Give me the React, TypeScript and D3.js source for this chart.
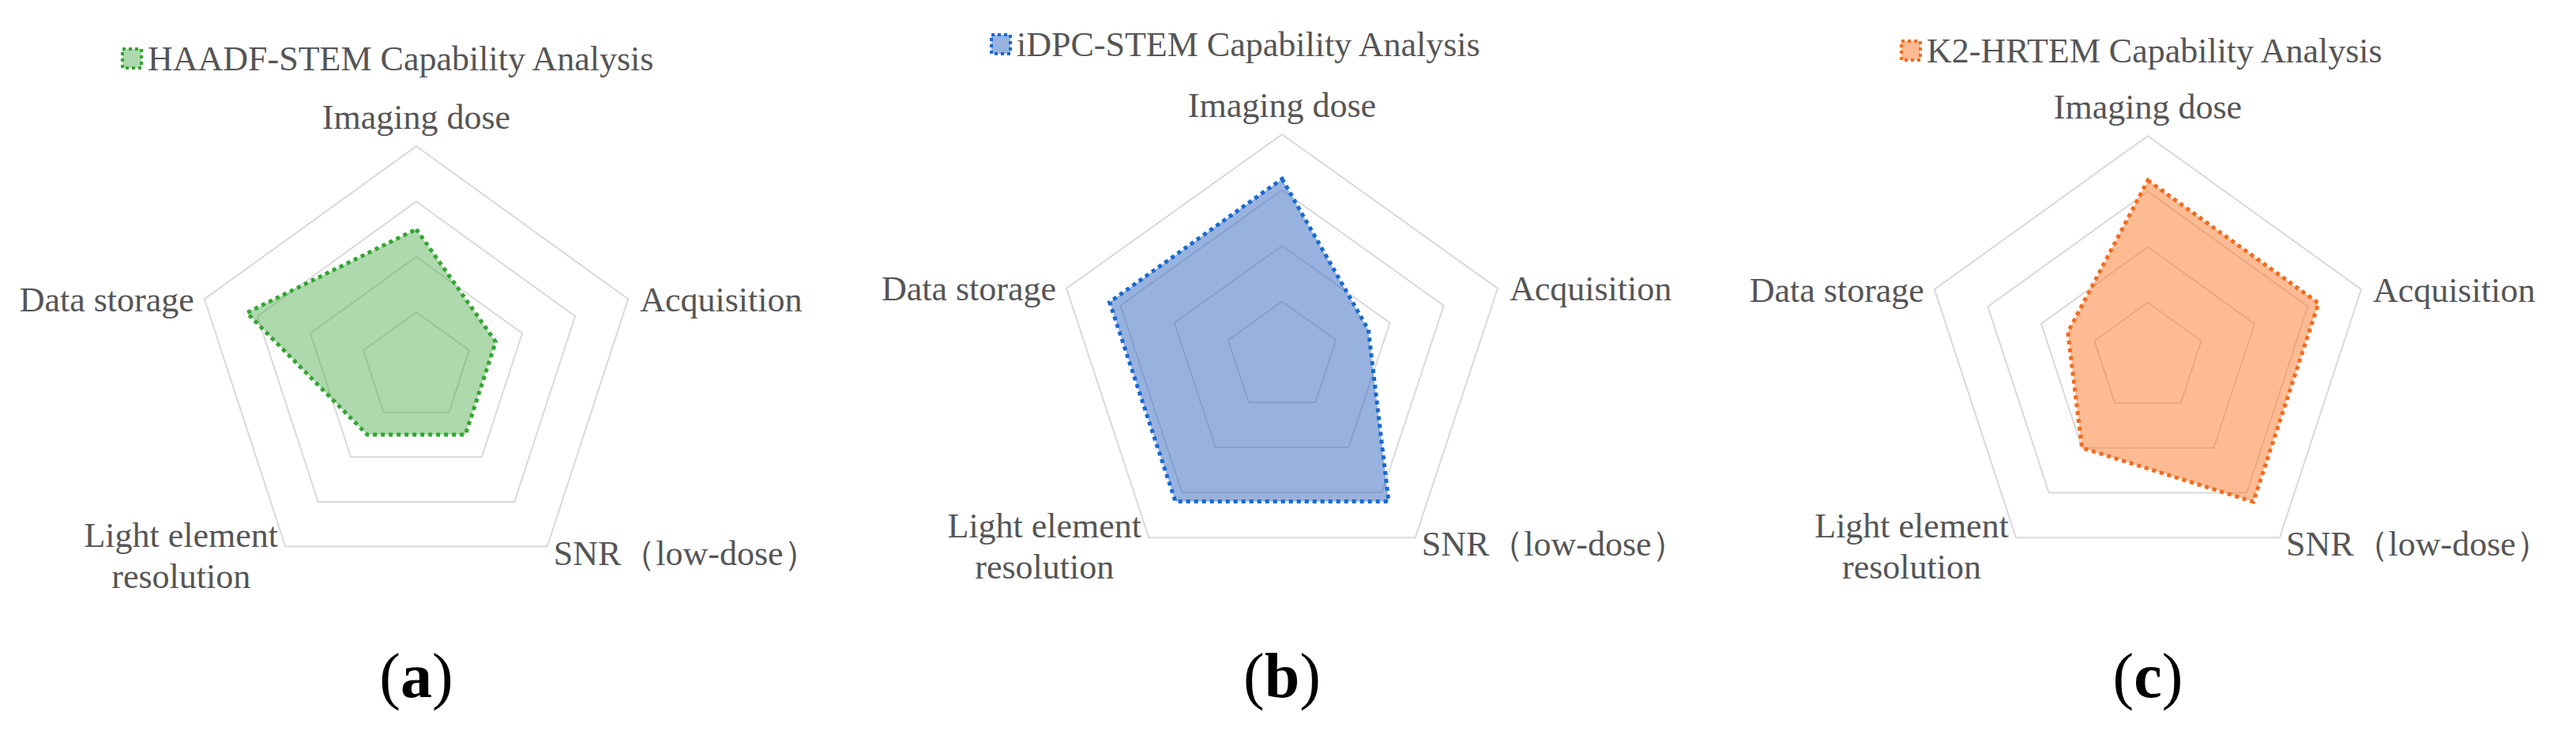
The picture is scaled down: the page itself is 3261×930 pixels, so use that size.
import React from 'react';
import { scaleLinear, line, curveLinearClosed, range } from 'd3';

const axes = ['Imaging dose', 'Acquisition', 'SNR（low-dose）', 'Light element|resolution', 'Data storage'];
const levels = [1, 2, 3, 4];

const haadfValues = [2.5, 1.5, 1.5, 1.5, 3.2];
const idpcValues = [3.2, 1.6, 3.2, 3.2, 3.2];
const k2Values = [3.2, 3.2, 3.2, 2, 1.5];

const titles = ['HAADF-STEM Capability Analysis', 'iDPC-STEM Capability Analysis', 'K2-HRTEM Capability Analysis'];
const panelLabels = ['a', 'b', 'c'];

const charts = [
  { values: haadfValues, title: titles[0], tag: panelLabels[0], cx: 527, cy: 465, rx: 282, ry: 280, legendX: 153, legendY: 74, stroke: '#33a532', fill: 'rgba(80,175,80,0.47)' },
  { values: idpcValues, title: titles[1], tag: panelLabels[1], cx: 1623, cy: 452, rx: 287, ry: 282, legendX: 1253, legendY: 56, stroke: '#1769d0', fill: 'rgba(68,114,196,0.55)' },
  { values: k2Values, title: titles[2], tag: panelLabels[2], cx: 2719, cy: 453, rx: 284, ry: 281, legendX: 2405, legendY: 64, stroke: '#f26b1d', fill: 'rgba(249,120,40,0.5)' },
];

const GRID = '#d9d9d9';
const TEXT = '#555555';
const FONT = 'Liberation Serif, Times New Roman, serif';

function Radar({ c }) {
  const r = scaleLinear().domain([0, 4]).range([0, 1]);
  const angle = (i) => (i * 2 * Math.PI) / axes.length;
  const pt = (i, v) => [c.cx + c.rx * r(v) * Math.sin(angle(i)), c.cy - c.ry * r(v) * Math.cos(angle(i))];
  const path = line().curve(curveLinearClosed);

  const ring = (lv) => path(range(axes.length).map((i) => pt(i, lv)));
  const series = path(c.values.map((v, i) => pt(i, v)));
  const outer = range(axes.length).map((i) => pt(i, 4));
  const ts = { fontFamily: FONT, fontSize: 44, fill: TEXT };

  return (
    <g>
      {levels.map((lv) => (
        <path key={lv} d={ring(lv)} fill="none" stroke={GRID} strokeWidth={2} />
      ))}
      <path d={series} fill={c.fill} stroke="none" />
      <path d={series} fill="none" stroke={c.stroke} strokeWidth={5} strokeDasharray="5 5" />

      {/* axis labels */}
      <text x={outer[0][0]} y={outer[0][1] - 22} textAnchor="middle" style={ts}>{axes[0]}</text>
      <text x={outer[1][0] + 15} y={outer[1][1]} dy="0.35em" textAnchor="start" style={ts}>{axes[1]}</text>
      <text x={outer[2][0] + 8} y={outer[2][1] + 23} textAnchor="start" style={ts}>{axes[2]}</text>
      <text y={outer[3][1]} textAnchor="middle" style={ts}>
        {axes[3].split('|').map((s, k) => (
          <tspan key={k} x={outer[3][0] - 132} dy={k === 0 ? 0 : 52}>{s}</tspan>
        ))}
      </text>
      <text x={outer[4][0] - 13} y={outer[4][1]} dy="0.35em" textAnchor="end" style={ts}>{axes[4]}</text>

      {/* legend */}
      <rect x={c.legendX + 2} y={c.legendY - 12} width={24} height={24} fill={c.fill} stroke={c.stroke} strokeWidth={4} strokeDasharray="4 4" />
      <text x={c.legendX + 34} y={c.legendY} dy="0.35em" style={ts}>{c.title}</text>

      {/* panel tag */}
      <text x={c.cx} y={882} textAnchor="middle" style={{ fontFamily: FONT, fontSize: 80, fill: '#000' }}>
        (<tspan fontWeight="bold">{c.tag}</tspan>)
      </text>
    </g>
  );
}

export default function App() {
  return (
    <svg width={3261} height={930} style={{ position: 'absolute', left: 0, top: 0, background: '#fff' }}>
      <rect width={3261} height={930} fill="#fff" />
      {charts.map((c) => (
        <Radar key={c.tag} c={c} />
      ))}
    </svg>
  );
}
